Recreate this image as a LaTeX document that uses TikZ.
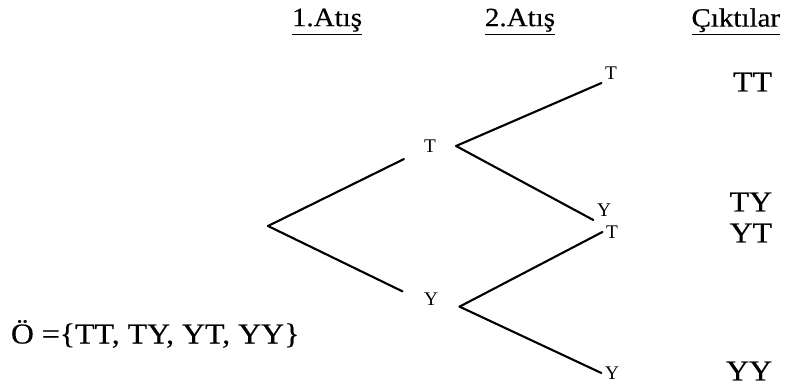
\documentclass[tikz,border=0pt]{standalone}
\usepackage{fontspec}
\setmainfont{Liberation Serif}
\newfontfamily\widefont[FakeStretch=1.1, FakeBold=0.4]{Liberation Serif}
\begin{document}
\begin{tikzpicture}[x=0.02cm, y=-0.02cm,
        line width=1.2pt, line cap=round,
        head/.style={font=\widefont\fontsize{15}{17}\selectfont},
        outcome/.style={font=\widefont\fontsize{16.5}{18}\selectfont, anchor=east},
        branch/.style={font=\fontsize{11}{13}\selectfont, inner sep=0pt,
            minimum width=1cm, minimum height=0.48cm},
        leaf/.style={font=\fontsize{11}{13}\selectfont, inner sep=1.5pt}
    ]
    \useasboundingbox (0,0) rectangle (790,391);

    % column titles
    \node[head] (first)   at (327,22) {\underline{1.Atış}};
    \node[head] (second)  at (520,22) {\underline{2.Atış}};
    \node[head, anchor=east] (outcomes) at (787,22) {\underline{Çıktılar}};

    % tree
    \coordinate (root) at (268,226);
    \node[branch] (t1) at (430,146) {T};
    \node[branch, minimum width=1.1cm] (y1) at (431,299) {Y};

    \node[leaf] (tt) at (611,73)  {T};
    \node[leaf] (ty) at (604,210) {Y};
    \node[leaf] (yt) at (612,232) {T};
    \node[leaf] (yy) at (612,373) {Y};

    \draw (root) -- (t1.south west);
    \draw (root) -- (y1.165);
    \draw (t1.east) -- (tt.south west);
    \draw (t1.east) -- (ty.south west);
    \draw (y1.-15) -- (yt.west);
    \draw (y1.-15) -- (yy.west);

    % outcomes
    \node[outcome] (o1) at (779,82)  {TT};
    \node[outcome] (o2) at (779,202) {TY};
    \node[outcome] (o3) at (779,233) {YT};
    \node[outcome] (o4) at (779,371) {YY};

    % sample space
    \node[outcome, anchor=west] (space) at (4,334) {Ö =\{TT, TY, YT, YY\}};
\end{tikzpicture}
\end{document}
